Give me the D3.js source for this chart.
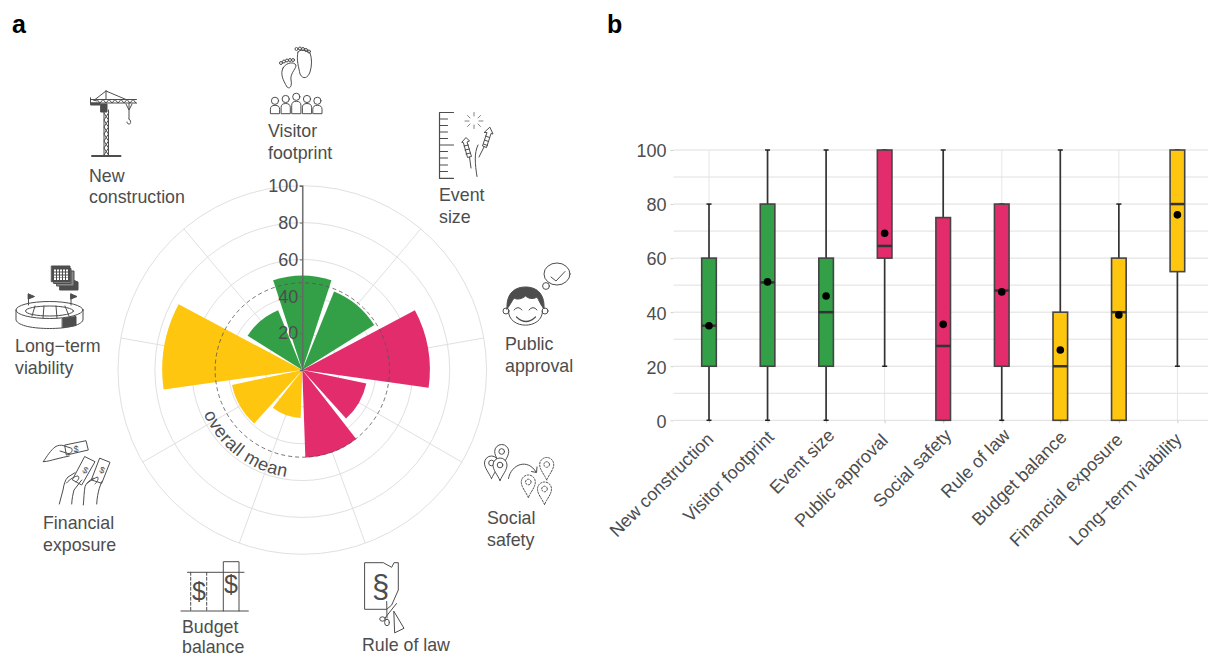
<!DOCTYPE html>
<html>
<head>
<meta charset="utf-8">
<script src="https://cdn.jsdelivr.net/npm/d3@7"></script>
<style>
  html, body { margin: 0; padding: 0; background: #fff; overflow: hidden; }
  svg { display: block; font-family: "Liberation Sans", Arial, sans-serif; }
  .lab { font-size: 17.8px; fill: #4d4d4d; }
  .icon { fill: none; stroke: #4d4d4d; stroke-width: 1; stroke-linejoin: round; stroke-linecap: round; }
  .dark { fill: #4d4d4d; stroke: #4d4d4d; }
</style>
</head>
<body>
<div id="chart"></div>
<script>
// categories, in the order of panel b
var categories = ['New construction', 'Visitor footprint', 'Event size', 'Public approval', 'Social safety', 'Rule of law', 'Budget balance', 'Financial exposure', 'Long\u2212term viability']
var groups     = ['social', 'social', 'social', 'politic', 'politic', 'politic', 'econ', 'econ', 'econ']

// box plot values
var whiskerLow  = [0, 0, 0, 20, 0, 0, 0, 0, 20]
var quartile1   = [20, 20, 20, 60, 0, 20, 0, 0, 55]
var medians     = [35, 51, 40, 64.5, 27.5, 48, 20, 40, 80]
var quartile3   = [60, 80, 60, 100, 75, 80, 40, 60, 100]
var whiskerHigh = [80, 100, 100, 100, 100, 80, 100, 80, 100]
var means       = [35, 51.2, 46, 69.2, 35.5, 47.5, 26, 39, 76]

var overallMean = 47.3
var polarTicks = [20, 40, 60, 80, 100]
var polarRings = [20, 40, 60, 80, 100]
var boxTicks = [0, 20, 40, 60, 80, 100]
var boxMinor = [10, 30, 50, 70, 90]

var groupColor = { social: '#33a048', politic: '#e32c6c', econ: '#fec60e' }

var svg = d3.select('#chart').append('svg').attr('width', 1208).attr('height', 657)

svg.append('text').text('a').attr('x', 12).attr('y', 33).attr('font-size', 25).attr('font-weight', 'bold').attr('fill', '#000')
svg.append('text').text('b').attr('x', 607).attr('y', 33).attr('font-size', 25).attr('font-weight', 'bold').attr('fill', '#000')

// ---------- panel a ----------
var cx = 302.3, cy = 370, R = 184.3
var rad = d3.scaleLinear().domain([0, 100]).range([0, R])
// new construction sits at 320 deg, the rest go on clockwise from the top
var angle = d3.scalePoint().domain(categories).range([-40, 280])
var toRad = d => d * Math.PI / 180

var polar = svg.append('g').attr('transform', `translate(${cx},${cy})`)

polar.selectAll('.ring').data(polarRings).enter().append('circle')
    .attr('class', 'ring')
    .attr('r', d => rad(d))
    .attr('fill', 'none').attr('stroke', '#e0e0e0').attr('stroke-width', 1)

polar.selectAll('.spoke').data(categories).enter().append('line')
    .attr('class', 'spoke')
    .attr('x1', 0).attr('y1', 0)
    .attr('x2', d => rad(100) * Math.sin(toRad(angle(d))))
    .attr('y2', d => -rad(100) * Math.cos(toRad(angle(d))))
    .attr('stroke', '#e0e0e0').attr('stroke-width', 1)

var wedge = d3.arc().innerRadius(0)
polar.selectAll('.wedge').data(categories).enter().append('path')
    .attr('class', 'wedge')
    .attr('fill', (d, i) => groupColor[groups[i]])
    .attr('d', (d, i) => wedge({
        outerRadius: rad(means[i]),
        startAngle: toRad(angle(d) - 18),
        endAngle: toRad(angle(d) + 18)
    }))

polar.append('circle')
    .attr('r', rad(overallMean))
    .attr('fill', 'none').attr('stroke', '#555').attr('stroke-width', 1)
    .attr('stroke-dasharray', '4 3').attr('opacity', 0.8)

var polarAxis = d3.axisLeft(d3.scaleLinear().domain([0, 100]).range([0, -R]))
    .tickValues(polarTicks).tickSizeOuter(0).tickSize(2.5).tickPadding(1.5)
var pa = polar.append('g').call(polarAxis)
pa.select('.domain').attr('stroke', '#666').attr('stroke-width', 1.4)
pa.selectAll('.tick line').attr('stroke', '#666')
pa.selectAll('.tick text').attr('font-size', 18).attr('fill', '#4d4d4d').attr('font-family', '"Liberation Sans", Arial, sans-serif')

// curved label, runs anticlockwise along the bottom
var labelPath = d3.path()
var rLabel = 108
labelPath.arc(0, 0, rLabel, toRad(246 - 90), toRad(185 - 90 - 4), true)
polar.append('path').attr('id', 'meanArc').attr('d', labelPath.toString()).attr('fill', 'none')
polar.append('text').attr('font-size', 18).attr('letter-spacing', 0.45).attr('fill', '#4d4d4d')
    .append('textPath').attr('href', '#meanArc').attr('startOffset', 0).text('overall mean')

// category names around the rose
var labelLines = [
    ['New', 89, 181.5], ['construction', 89, 203],
    ['Visitor', 268, 137], ['footprint', 268, 158.5],
    ['Event', 439, 201], ['size', 439, 222.5],
    ['Public', 505, 350], ['approval', 505, 371.5],
    ['Social', 487, 524], ['safety', 487, 545.5],
    ['Rule of law', 362, 651],
    ['Budget', 182, 632.5], ['balance', 182, 653],
    ['Financial', 43, 529], ['exposure', 43, 550.5],
    ['Long\u2212term', 15, 352], ['viability', 15, 374]
]
svg.selectAll('.lab').data(labelLines).enter().append('text')
    .attr('class', 'lab').text(d => d[0]).attr('x', d => d[1]).attr('y', d => d[2])

// ---------- icons ----------
var icons = svg.append('g').attr('class', 'icon')
function ic(d, cls) { return icons.append('path').attr('d', d).attr('class', cls || null) }

// crane
ic('M92 156H120.5').attr('stroke-width', 2)
ic('M104 110V155M108.5 110V155M104 113L108.5 120L104 127L108.5 134L104 141L108.5 148L104 155M108.5 113L104 120L108.5 127L104 134L108.5 141L104 148L108.5 155')
ic('M91 99.5H136.5M91 103H136.5').attr('stroke-width', 1)
ic('M93 100L97 101M97 99.5L100 103L103 99.5L106 103L109 99.5L112 103L115 99.5L118 103L121 99.5L124 103L127 99.5L130 103L133 99.5L136 103')
ic('M106 91L95 99.5M106 91L126 99.5M106 91V99')
ic('M90.5 98V103H100V105H91Z', 'dark')
ic('M101 104H107V112H101Z', 'dark')
ic('M129 103V119M126 104L129 110L132 104M129 119C131 120 131.5 124 129 124C127.5 124 127 123 127 122')

// feet and people
ic('M283 68C280 74 283 80 287 87C291 90 292 84 291 80C290 74 295 70 296 66C296 62 287 61 283 68Z')
ic('M298 52C296 60 299 68 300 74C303 80 308 78 310 72C312 66 312 58 310 53C306 50 300 49 298 52Z')
;[[281, 63], [284, 61.5], [287, 60.5], [290, 60], [293, 60], [296.5, 49], [300, 48.5], [303, 49], [306, 50], [309, 51.5]].forEach(p => {
    icons.append('circle').attr('cx', p[0]).attr('cy', p[1]).attr('r', 1.5)
})
;[[275, 100.8], [285.7, 99], [296.3, 96.8], [307, 99], [317.4, 100.8]].forEach(p => {
    icons.append('circle').attr('cx', p[0]).attr('cy', p[1]).attr('r', 3.6)
    var x = p[0], y = p[1] + 4.5
    ic(`M${x - 4.6} 113.3V${y + 4}Q${x - 4.6} ${y} ${x} ${y}Q${x + 4.6} ${y} ${x + 4.6} ${y + 4}V113.3Z`)
})

// ruler and rockets
ic('M439.5 112.5V178.3M439.5 112.5H453.5M439.5 145H453.5M439.5 178.3H453.5M439.5 119H447.5M439.5 125.5H447.5M439.5 132H447.5M439.5 138.5H447.5M439.5 151.5H447.5M439.5 158H447.5M439.5 165H447.5M439.5 171.5H447.5').attr('stroke-width', 1.2)
ic('M474 112.5V116M474 125V128.5M465 121H469M479 121H483M467.5 115.5L470 118M478 124L480.5 126.5M480.5 115.5L478 118M470 124L467.5 126.5').attr('stroke-width', 0.7)
ic('M462 142L466 137.5L469.5 141L467 142L471.5 156.5L467.5 157.5L463.5 143Z')
ic('M464 146L468.5 145M465 150L469.5 149M466 154L470.5 153M469.5 157L471 168')
ic('M490 127.5L493 134L491 133.5L486.5 147.5L482.5 146L487 132.5L484.5 132.5Z')
ic('M485.5 136L489.5 137.5M484.5 140L488.5 141.5M483.5 144L487.5 145.5M484 147L479 157')
ic('M478 145C474 153 475 164 477 176.5')

// face
ic('M508.5 311C508.5 330 542.5 330 542.5 311')
icons.append('circle').attr('cx', 506).attr('cy', 311).attr('r', 3)
icons.append('circle').attr('cx', 545).attr('cy', 311).attr('r', 3)
ic('M507 309C506 292 516 287 525.5 287C535 287 545 292 544 309C540 304 539 300 537 297C532 300 528 298 525.5 296C522 299 517 300 514 298C512 301 510 305 507 309Z', 'dark')
ic('M514 310Q518 305 522 310M529 310Q533 305 537 310')
ic('M516.5 317Q526 326 535.5 317').attr('stroke-width', 1.2)
icons.append('ellipse').attr('cx', 557).attr('cy', 274).attr('rx', 13).attr('ry', 11)
icons.append('circle').attr('cx', 546).attr('cy', 286).attr('r', 3.4)
ic('M551 277L556 281L565 271.5')

// pins
function pin(x, y, dashed) {
    var p = ic(`M${x} ${y + 15.5}C${x - 3} ${y + 9} ${x - 7} ${y + 5} ${x - 7} ${y}A7 7 0 1 1 ${x + 7} ${y}C${x + 7} ${y + 5} ${x + 3} ${y + 9} ${x} ${y + 15.5}Z`)
    var c = icons.append('circle').attr('cx', x).attr('cy', y).attr('r', 2.8)
    if (dashed) { p.attr('stroke-dasharray', '1.5 1.5'); c.attr('stroke-dasharray', '1.5 1.5') }
    else { p.attr('fill', '#fff'); c.attr('fill', '#fff') }
}
pin(491.5, 463); pin(501.7, 451.5); pin(500, 465)
pin(546.7, 464.5, true); pin(528.3, 482, true); pin(544.5, 489, true)
ic('M508.5 478.5C511 464 528 458 536 472M531.5 471.5L536.5 472.5L537 467')

// paper and scissors
ic('M365 562.7H383.3L391.7 567.3L394 562.7H398.3V590L391.7 605L386.7 609.3H365Z')
icons.append('text').text('\u00a7').attr('x', 380.5).attr('y', 597).attr('text-anchor', 'middle').attr('font-size', 31).attr('fill', '#4d4d4d').attr('stroke', 'none')
ic('M386.7 601.5L387 618M396.5 603.5L385 618M394 611.5L404 628.3L395 632.7Z')
icons.append('ellipse').attr('cx', 382.5).attr('cy', 619).attr('rx', 2.8).attr('ry', 2.2)
icons.append('ellipse').attr('cx', 387).attr('cy', 622.5).attr('rx', 2.4).attr('ry', 3.2)

// budget
ic('M187.5 572.3H244M181 611H248.3').attr('stroke-width', 1)
ic('M190.7 572.3V611M206.7 572.3V611').attr('stroke-dasharray', '3 2')
ic('M223.3 611V561.7H239V611')
icons.append('text').text('$').attr('x', 199).attr('y', 600).attr('text-anchor', 'middle').attr('font-size', 25).attr('fill', '#4d4d4d').attr('stroke', 'none')
icons.append('text').text('$').attr('x', 231).attr('y', 593).attr('text-anchor', 'middle').attr('font-size', 25).attr('fill', '#4d4d4d').attr('stroke', 'none')

// money and hands
ic('M65 445L86 440.7L88.3 450L66.7 455Z')
icons.append('text').text('$').attr('x', 76).attr('y', 451.5).attr('text-anchor', 'middle').attr('font-size', 9).attr('fill', '#4d4d4d').attr('stroke', 'none')
ic('M43.3 461.7C47 456 51 450 55 447C58 445 61 445 63 445.5L71.7 448.3C73 451 71 454 68 453.5L60 451')
ic('M43.3 461.7C48 461.5 52 460 55 459.3L63.3 457.3L69.3 456')
ic('M85 456.7L95 461.7L81.7 485L72.7 480Z')
ic('M100 458.3L110 462.3L101.7 483.3L91.7 480Z')
icons.append('text').text('$').attr('transform', 'translate(84,473) rotate(28)').attr('text-anchor', 'middle').attr('font-size', 9).attr('fill', '#4d4d4d').attr('stroke', 'none')
icons.append('text').text('$').attr('transform', 'translate(101,473) rotate(22)').attr('text-anchor', 'middle').attr('font-size', 9).attr('fill', '#4d4d4d').attr('stroke', 'none')
ic('M59.3 504L63 490C64 484 65 480 68 477L75 472.7M66.5 483C70 479 75 476 78 476C80 478 78 480 76 482M71.7 504C72 498 73 494 74 490L81.7 480')
ic('M83.3 505C84 498 84 492 85 486.7C86 483 90 480 93.3 478.3M87.5 483C91 480 95 478 97.5 477C99 479 97 482 95 484M96.7 504C97 498 98 493 99.3 488.3L101.7 481.7')

// stadium
icons.append('ellipse').attr('cx', 49.5).attr('cy', 310).attr('rx', 33.5).attr('ry', 8.5)
icons.append('ellipse').attr('cx', 49.5).attr('cy', 311).attr('rx', 24).attr('ry', 5)
ic('M16 310V320C18 326 34 328.5 49.5 328.5C65 328.5 81 326 83 320V310')
ic('M62.5 318.5L76 316.5V325.5L62.5 327.5Z', 'dark')
ic('M35 306L32 316M44 306L43 318M56 306L57 318M65 306L69 316')
ic('M28.5 305V294')
ic('M28.5 294L34.5 296.5L28.5 299Z', 'dark')
ic('M71 305V294')
ic('M71 294L77 296.5L71 299Z', 'dark')
ic('M60 275L78 282V290H60Z', 'dark')
ic('M57 271H74V286H57Z').attr('fill', '#888')
ic('M54 268.5H71V283.5H54Z').attr('fill', '#888')
ic('M51.7 266H70V281.7H51.7Z', 'dark')
icons.append('g').selectAll('rect').data(d3.cross([54, 57, 60, 63, 66], [269.5, 272.5, 275.5, 278])).enter().append('rect')
    .attr('x', d => d[0]).attr('y', d => d[1]).attr('width', 2).attr('height', 2)
    .attr('fill', '#fff').attr('stroke', 'none')

// ---------- panel b ----------
var x = d3.scalePoint().domain(categories).range([709, 1177.4])
var y = d3.scaleLinear().domain([0, 100]).range([420.3, 150])
var plotLeft = 673.5, plotRight = 1208

var grid = svg.append('g')
grid.selectAll('.vgrid').data(categories).enter().append('line')
    .attr('x1', d => x(d)).attr('x2', d => x(d))
    .attr('y1', y(0)).attr('y2', y(100))
    .attr('stroke', '#e6e6e6').attr('stroke-width', 1)
grid.selectAll('.minor').data(boxMinor).enter().append('line')
    .attr('x1', plotLeft).attr('x2', plotRight)
    .attr('y1', d => y(d)).attr('y2', d => y(d))
    .attr('stroke', '#e0e0e0').attr('stroke-width', 1)
grid.selectAll('.major').data(boxTicks).enter().append('line')
    .attr('x1', plotLeft).attr('x2', plotRight)
    .attr('y1', d => y(d)).attr('y2', d => y(d))
    .attr('stroke', '#dedede').attr('stroke-width', 1)

var yAxis = d3.axisLeft(y).tickValues(boxTicks).tickSize(3).tickPadding(4)
var ya = svg.append('g').attr('transform', `translate(${plotLeft},0)`).call(yAxis)
ya.select('.domain').remove()
ya.selectAll('.tick line').attr('stroke', '#cfcfcf')
ya.selectAll('.tick text').attr('font-size', 18).attr('dy', '0.38em').attr('fill', '#4d4d4d').attr('font-family', '"Liberation Sans", Arial, sans-serif')

var xAxis = d3.axisBottom(x).tickSize(3).tickPadding(5)
var xa = svg.append('g').attr('transform', `translate(0,${y(0)})`).call(xAxis)
xa.select('.domain').remove()
xa.selectAll('.tick line').attr('stroke', '#cfcfcf')
// the original labels do not all end at the same spot under their tick
var tickShift = [1, 3, 5, 0, 5, 5, 3, 0.5, 1]
xa.selectAll('.tick text')
    .attr('font-size', 18).attr('fill', '#4d4d4d').attr('font-family', '"Liberation Sans", Arial, sans-serif')
    .attr('text-anchor', 'end').attr('dy', 0).attr('y', 0)
    .attr('transform', (d, i) => `translate(${4 + tickShift[i]},${21 - tickShift[i]}) rotate(-45)`)

var boxW = 14.6, capW = 5
var boxes = svg.selectAll('.box').data(categories).enter().append('g').attr('class', 'box')

boxes.append('line')
    .attr('x1', d => x(d)).attr('x2', d => x(d))
    .attr('y1', (d, i) => y(whiskerLow[i])).attr('y2', (d, i) => y(whiskerHigh[i]))
    .attr('stroke', '#333').attr('stroke-width', 1.7)
boxes.append('line')
    .attr('x1', d => x(d) - capW / 2).attr('x2', d => x(d) + capW / 2)
    .attr('y1', (d, i) => y(whiskerLow[i])).attr('y2', (d, i) => y(whiskerLow[i]))
    .attr('stroke', '#222').attr('stroke-width', 1.5)
boxes.append('line')
    .attr('x1', d => x(d) - capW / 2).attr('x2', d => x(d) + capW / 2)
    .attr('y1', (d, i) => y(whiskerHigh[i])).attr('y2', (d, i) => y(whiskerHigh[i]))
    .attr('stroke', '#222').attr('stroke-width', 1.5)
boxes.append('rect')
    .attr('x', d => x(d) - boxW / 2).attr('width', boxW)
    .attr('y', (d, i) => y(quartile3[i]))
    .attr('height', (d, i) => y(quartile1[i]) - y(quartile3[i]))
    .attr('fill', (d, i) => groupColor[groups[i]])
    .attr('stroke', '#444').attr('stroke-width', 1.6)
boxes.append('line')
    .attr('x1', d => x(d) - boxW / 2).attr('x2', d => x(d) + boxW / 2)
    .attr('y1', (d, i) => y(medians[i])).attr('y2', (d, i) => y(medians[i]))
    .attr('stroke', '#333').attr('stroke-width', 2.5)
boxes.append('circle')
    .attr('cx', d => x(d)).attr('cy', (d, i) => y(means[i])).attr('r', 3.8)
    .attr('fill', '#000')
</script>
</body>
</html>
